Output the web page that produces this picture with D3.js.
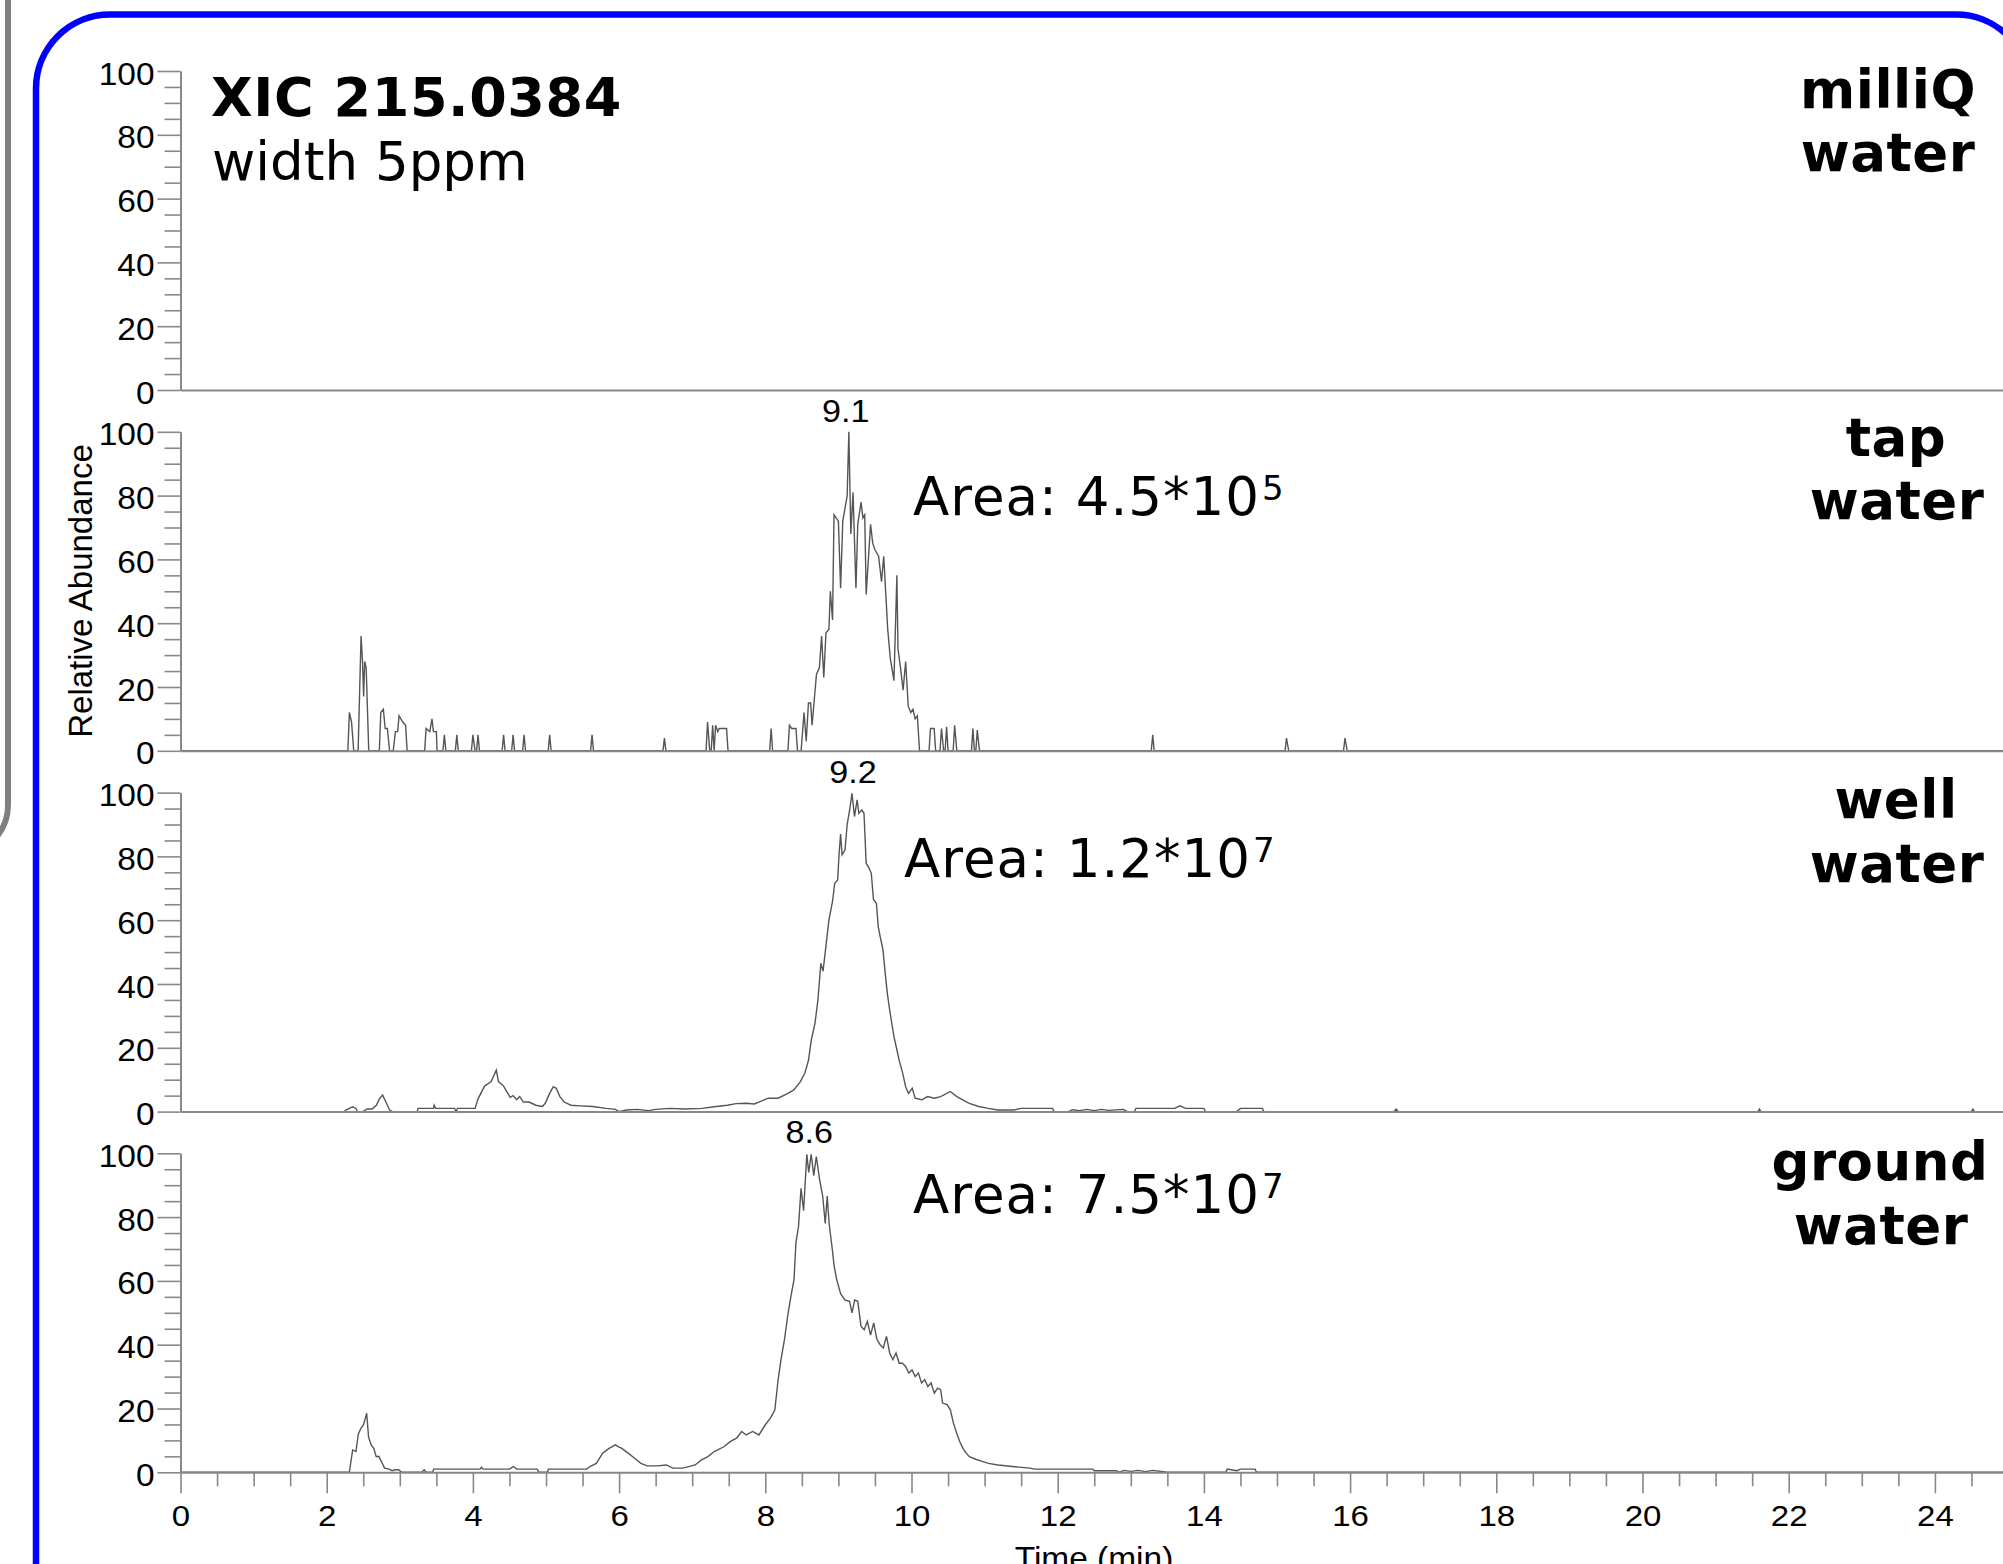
<!DOCTYPE html>
<html><head><meta charset="utf-8">
<script src="https://cdn.jsdelivr.net/npm/d3@7"></script>
<style>html,body{margin:0;padding:0;background:#fff;overflow:hidden}</style>
</head><body><svg id="c" width="2003" height="1564"></svg>
<script>
// ---------------- data ----------------
const sampleNames = [["milliQ","water"],["tap","water"],["well","water"],["ground","water"]];
const areaMantissa = [null,"4.5","1.2","7.5"];
const areaExponent = [null,"5","7","7"];
const peakTimes = [null,9.1,9.2,8.6];
const peakTexts = [null,"9.1","9.2","8.6"];
const yTickValues = [0,20,40,60,80,100];
const xTickValues = [0,2,4,6,8,10,12,14,16,18,20,22,24];
const titleLine1 = "XIC 215.0384";
const titleLine2 = "width 5ppm";
const yAxisTitle = "Relative Abundance";
const xAxisTitle = "Time (min)";

const milliqData = [];
const tapData = [[0,0],[2.29,0],[2.31,12],[2.34,9],[2.37,0],[2.43,0],[2.47,36],[2.49,28],[2.505,17],[2.52,28],[2.54,26],[2.575,0],
[2.72,0],[2.74,12],[2.775,13],[2.80,7],[2.83,7],[2.86,0],[2.91,0],[2.94,6],[2.97,6],[2.99,11],[3.04,9],[3.08,8],[3.10,0],
[3.34,0],[3.36,7],[3.41,6],[3.44,10],[3.46,6],[3.50,6],[3.51,0],
[3.59,0],[3.61,5],[3.63,0],[3.76,0],[3.78,5],[3.80,0],[3.98,0],[4.00,5],[4.03,0],[4.05,0],[4.07,5],[4.09,0],
[4.40,0],[4.42,5],[4.44,0],[4.53,0],[4.55,5],[4.57,0],[4.68,0],[4.70,5],[4.72,0],
[5.03,0],[5.05,5],[5.07,0],[5.61,0],[5.63,5],[5.65,0],[6.60,0],[6.62,4],[6.64,0],
[7.19,0],[7.21,9],[7.24,0],[7.26,0],[7.28,8],[7.30,0],[7.32,8],[7.35,6],[7.37,7],[7.40,7],[7.47,7],[7.49,0],
[8.06,0],[8.08,7],[8.10,0],
[8.31,0],[8.33,8],[8.36,7],[8.39,7],[8.42,7],[8.44,0],[8.49,0],[8.53,12],[8.56,3],[8.59,15],[8.62,15],[8.64,8],[8.67,16],
[8.70,24],[8.74,26],[8.77,36],[8.80,23],[8.83,37],[8.87,38],[8.89,50],[8.92,41],[8.94,74],[9.00,72],[9.03,51],[9.06,72],[9.12,80],[9.143,100],[9.17,68],[9.20,81],[9.24,51],[9.265,71],[9.31,78],[9.335,73],[9.36,74],[9.38,49],[9.44,71],[9.47,65],[9.50,63],[9.55,61],[9.59,53],[9.62,61],[9.675,38],[9.71,29],[9.76,22],[9.80,55],[9.815,32],[9.85,26],[9.885,19],[9.92,28],[9.955,14],[9.99,12],[10.02,13],[10.05,10],[10.08,11],[10.11,0],
[10.24,0],[10.26,7],[10.31,7],[10.33,0],[10.39,0],[10.41,7],[10.44,0],[10.46,0],[10.48,7.5],[10.50,0],[10.57,0],[10.59,8],[10.62,0],
[10.82,0],[10.84,7],[10.86,0],[10.88,0],[10.90,6.5],[10.93,0],
[13.28,0],[13.30,5],[13.32,0],[15.11,0],[15.13,4],[15.16,0],[15.91,0],[15.93,4],[15.96,0],[25,0]];
const wellData = [[0,0],[2.24,0],[2.26,0.5],[2.31,1],[2.355,1.5],[2.40,1],[2.42,0],[2.50,0],[2.55,0.8],[2.62,0.8],[2.68,2],[2.72,4],[2.765,5.2],[2.81,3],[2.86,0.5],[2.90,0],[3.24,0],[3.25,1],[3.46,1],[3.47,2],[3.49,1],[3.75,1],[3.77,0],[3.79,1],[4.03,1],[4.07,4],[4.16,8],[4.25,9.4],[4.32,13],[4.35,9.4],[4.42,8],[4.47,6],[4.51,4.5],[4.55,5],[4.60,3.7],[4.64,4.7],[4.69,3],[4.77,3],[4.86,2],[4.95,1.6],[4.99,2.6],[5.05,5.7],[5.10,7.8],[5.14,7.3],[5.19,4.7],[5.25,3],[5.34,2],[5.47,1.8],[5.64,1.6],[5.82,1],[5.95,0.7],[6.0,0],[6.1,0.5],[6.25,0.7],[6.4,0.3],[6.5,0.7],[6.69,1],[6.9,0.8],[7.13,1],[7.3,1.5],[7.48,2],[7.6,2.5],[7.74,2.6],[7.85,2.4],[7.91,3],[8.04,4.2],[8.175,4.2],[8.31,5.7],[8.39,6.8],[8.48,9.4],[8.54,12],[8.59,16],[8.63,22.5],[8.68,27.7],[8.72,35],[8.76,46.5],[8.79,44],[8.84,54],[8.87,60],[8.92,66],[8.95,71.6],[8.99,72.6],[9.01,81],[9.03,87],[9.05,80.5],[9.09,82],[9.12,90],[9.15,94],[9.186,99.8],[9.22,92.5],[9.256,97.7],[9.28,93.5],[9.32,94.6],[9.35,93.5],[9.38,77.8],[9.41,76.8],[9.45,74.7],[9.48,66.4],[9.52,65.3],[9.545,58],[9.57,55],[9.61,50.7],[9.64,43.4],[9.67,37],[9.70,32],[9.73,27.7],[9.76,23.5],[9.79,20.4],[9.83,16.2],[9.88,12],[9.92,7.8],[9.96,5.7],[10.01,7.3],[10.05,4.2],[10.14,3.7],[10.22,4.7],[10.31,4.2],[10.40,4.7],[10.53,6.3],[10.62,4.7],[10.70,3.7],[10.79,2.6],[10.92,1.6],[11.05,1],[11.18,0.5],[11.4,0.5],[11.5,1],[11.93,1],[11.95,0],[12.15,0],[12.2,0.6],[12.3,0.3],[12.4,0.7],[12.5,0.3],[12.6,0.7],[12.7,0.4],[12.9,0.7],[12.95,0],[13.05,0],[13.07,1],[13.6,1],[13.67,1.8],[13.75,1],[14.0,1],[14.02,0],[14.45,0],[14.5,1],[14.8,1],[14.82,0],[16.6,0],[16.63,0.8],[16.66,0],[21.58,0],[21.6,0.8],[21.62,0],[24.5,0],[24.52,0.8],[24.54,0],[25,0]];
const groundData = [[0,0],[2.31,0],[2.355,7],[2.40,6.5],[2.433,12],[2.469,13.8],[2.504,14.9],[2.547,18.5],[2.573,11],[2.608,8.6],[2.643,7.5],[2.678,4.9],[2.713,5],[2.748,3.4],[2.792,1.3],[2.853,1],[2.896,0.5],[2.94,0.8],[2.984,0.8],[3.027,0],[3.30,0],[3.333,0.8],[3.36,0],[3.45,0],[3.463,1],[4.1,1],[4.117,1.6],[4.14,1],[4.5,1],[4.554,1.8],[4.6,1],[4.88,1],[4.903,0],[5.02,0],[5.034,1],[5.557,1],[5.601,1.8],[5.688,2.8],[5.775,6],[5.863,7.5],[5.949,8.6],[5.993,8],[6.037,7.5],[6.124,6],[6.212,4.4],[6.299,2.8],[6.386,2],[6.517,2],[6.648,2.3],[6.735,1.3],[6.866,1.3],[6.953,1.8],[7.04,2.3],[7.127,3.9],[7.215,4.9],[7.302,6.5],[7.433,8],[7.52,9.6],[7.607,10.7],[7.677,12.8],[7.738,11.7],[7.826,12.8],[7.913,11.7],[8.0,14.9],[8.07,17],[8.131,19.6],[8.175,29],[8.218,35.8],[8.262,41.6],[8.306,49],[8.349,55],[8.393,60.4],[8.419,72],[8.454,77],[8.489,89],[8.524,82],[8.568,99.7],[8.594,94],[8.628,99.7],[8.663,93],[8.698,99],[8.741,92],[8.785,86.6],[8.82,78],[8.847,86.6],[8.873,78],[8.916,70],[8.942,64.6],[8.977,60.4],[9.03,56],[9.091,54],[9.152,53.6],[9.186,50],[9.222,54],[9.265,53.6],[9.309,45.8],[9.353,44.7],[9.396,47.3],[9.44,43],[9.483,46.8],[9.527,41.6],[9.571,40],[9.614,39],[9.658,42.6],[9.702,37.4],[9.745,35.3],[9.788,37.4],[9.832,34.2],[9.876,34.2],[9.919,33.2],[9.963,31.1],[10.007,32.1],[10.051,30],[10.094,31.1],[10.138,28],[10.181,29],[10.224,26.9],[10.268,28],[10.312,24.8],[10.356,26.4],[10.399,25.9],[10.425,21.7],[10.487,21.2],[10.531,19.6],[10.574,15.4],[10.617,12.3],[10.661,9.6],[10.704,7.5],[10.748,6],[10.792,4.9],[10.879,4.1],[10.966,3.4],[11.053,2.8],[11.184,2.3],[11.38,1.8],[11.62,1.3],[11.68,1],[12.48,1],[12.5,0.5],[12.8,0.5],[12.85,0],[12.9,0.6],[13.0,0.3],[13.1,0.6],[13.2,0.2],[13.3,0.6],[13.5,0],[14.3,0],[14.32,1],[14.45,0.5],[14.5,1],[14.7,1],[14.72,0],[25,0]];
const allSeries = [milliqData, tapData, wellData, groundData];

// ---------------- layout ----------------
const W = 2003, Hc = 1564;
const svg = d3.select("#c");
svg.append("rect").attr("width", W).attr("height", Hc).attr("fill", "#fff");

// frames
svg.append("rect").attr("x", -300).attr("y", -100).attr("width", 308).attr("height", 955)
  .attr("rx", 50).attr("fill", "none").attr("stroke", "#808080").attr("stroke-width", 6);
svg.append("rect").attr("x", 36).attr("y", 14.5).attr("width", 1994).attr("height", 2000)
  .attr("rx", 74).attr("fill", "none").attr("stroke", "#0000ff").attr("stroke-width", 6.5);

const x = d3.scaleLinear().domain([0, 25]).range([180.5, 180.5 + 25 * 73.1]);
const zeros = [390, 750.8, 1111.6, 1472.3];
const PH = 319;
const AX = "#888";
const tickFont = "'Liberation Sans', Arial, sans-serif";
const verdana = "'DejaVu Sans', Verdana, sans-serif";

const nameLayout = [
  [[1888,108],[1888,171]],
  [[1896,456],[1897,519]],
  [[1896,818],[1897,882]],
  [[1880,1180],[1881,1244]]
];
const areaLayout = [null,[913,515],[904,877],[913,1213]];

const line = d3.line();

allSeries.forEach((data, i) => {
  const y = d3.scaleLinear().domain([0, 100]).range([zeros[i], zeros[i] - PH]);
  const g = svg.append("g");

  // trace
  if (data.length) {
    g.append("path").datum(data)
      .attr("d", line.x(d => x(d[0])).y(d => y(d[1])))
      .attr("fill", "none").attr("stroke", "#555").attr("stroke-width", 1.4)
      .attr("stroke-linejoin", "miter");
  }

  // y minor ticks
  const yMinor = d3.range(5, 100, 5).filter(v => v % 20 !== 0);
  g.append("g").attr("transform", `translate(${x(0)},0)`)
    .call(d3.axisLeft(y).tickValues(yMinor).tickSize(16).tickFormat("").tickSizeOuter(0))
    .call(s => s.select(".domain").remove())
    .call(s => s.selectAll(".tick line").attr("stroke", AX).attr("stroke-width", 1.6));
  // y major ticks
  const ya = g.append("g").attr("transform", `translate(${x(0)},0)`)
    .call(d3.axisLeft(y).tickValues(yTickValues).tickSize(23).tickPadding(3).tickSizeOuter(0));
  ya.select(".domain").attr("stroke", AX).attr("stroke-width", 2);
  ya.selectAll(".tick line").attr("stroke", AX).attr("stroke-width", 1.6);
  ya.selectAll(".tick text").attr("fill", "#000").attr("font-family", tickFont).attr("font-size", 31)
    .attr("x", -26 / 1.08).attr("dy", "0.42em").attr("transform", "scale(1.08,1)");

  // x axis
  if (i < 3) {
    const xa = g.append("g").attr("transform", `translate(0,${zeros[i]})`)
      .call(d3.axisBottom(x).tickValues([]).tickSizeOuter(0));
    xa.select(".domain").attr("stroke", AX).attr("stroke-width", 2);
  } else {
    const xMinor = d3.range(0.5, 25, 0.5).filter(v => v % 2 !== 0);
    g.append("g").attr("transform", `translate(0,${zeros[i]})`)
      .call(d3.axisBottom(x).tickValues(xMinor).tickSize(14).tickFormat("").tickSizeOuter(0))
      .call(s => s.select(".domain").remove())
      .call(s => s.selectAll(".tick line").attr("stroke", AX).attr("stroke-width", 1.6));
    const xa = g.append("g").attr("transform", `translate(0,${zeros[i]})`)
      .call(d3.axisBottom(x).tickValues(xTickValues).tickSize(21).tickPadding(11).tickSizeOuter(0));
    xa.select(".domain").attr("stroke", AX).attr("stroke-width", 2);
    xa.selectAll(".tick line").attr("stroke", AX).attr("stroke-width", 1.6);
    xa.selectAll(".tick text").attr("fill", "#000").attr("font-family", tickFont).attr("font-size", 30)
      .attr("transform", "scale(1.1,1)");
  }

  // sample name
  sampleNames[i].forEach((w, k) => {
    svg.append("text").attr("x", nameLayout[i][k][0]).attr("y", nameLayout[i][k][1])
      .attr("text-anchor", "middle").attr("font-family", verdana).attr("font-weight", "bold")
      .attr("font-size", 53).attr("letter-spacing", 0.5).attr("fill", "#000").text(w);
  });

  // peak label and area
  if (peakTimes[i] != null) {
    svg.append("text")
      .attr("transform", `translate(${x(peakTimes[i])},${zeros[i] - PH - 10}) scale(1.1,1)`)
      .attr("text-anchor", "middle").attr("font-family", tickFont).attr("font-size", 31)
      .attr("fill", "#000").text(peakTexts[i]);
    const t = svg.append("text").attr("x", areaLayout[i][0]).attr("y", areaLayout[i][1])
      .attr("font-family", verdana).attr("font-size", 53).attr("letter-spacing", 1).attr("fill", "#000");
    t.append("tspan").text(`Area: ${areaMantissa[i]}*10`);
    t.append("tspan").attr("font-size", 34).attr("dy", -15).attr("dx", 2).attr("letter-spacing", 0).text(areaExponent[i]);
  }
});

// titles
svg.append("text").attr("x", 211).attr("y", 116).attr("font-family", verdana).attr("font-weight", "bold")
  .attr("font-size", 54).attr("letter-spacing", 0.6).attr("fill", "#000").text(titleLine1);
svg.append("text").attr("x", 212).attr("y", 180).attr("font-family", verdana)
  .attr("font-size", 53).attr("fill", "#000").text(titleLine2);

// axis titles
svg.append("text").attr("transform", "translate(92,591) rotate(-90)").attr("text-anchor", "middle")
  .attr("font-family", tickFont).attr("font-size", 33).attr("fill", "#000").text(yAxisTitle);
svg.append("text").attr("transform", "translate(1094,1569) scale(1.08,1)").attr("text-anchor", "middle")
  .attr("font-family", tickFont).attr("font-size", 31).attr("fill", "#000").text(xAxisTitle);
</script></body></html>
